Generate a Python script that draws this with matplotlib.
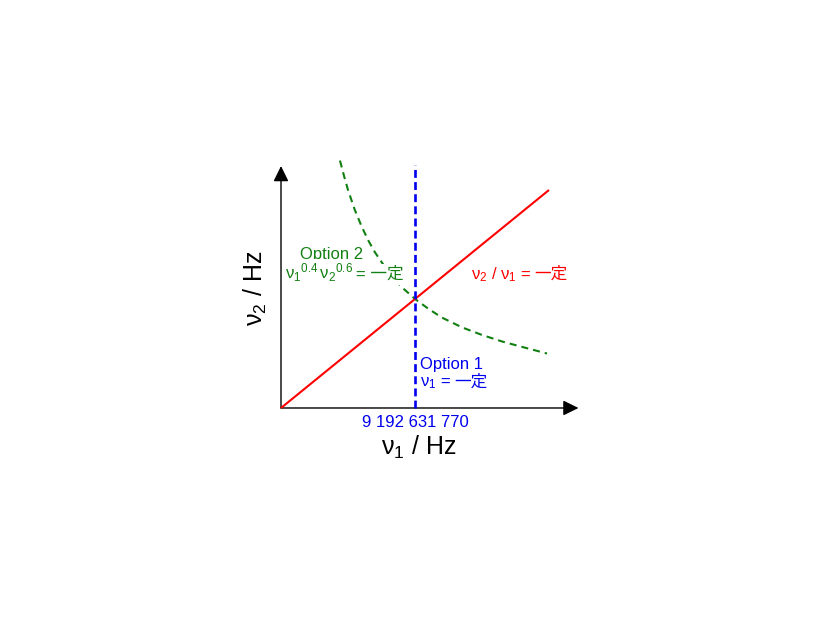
import matplotlib
matplotlib.use('Agg')
import matplotlib.pyplot as plt

plt.rcParams['font.family'] = ['Liberation Sans', 'Noto Sans CJK JP', 'DejaVu Sans']

# ---- data (normalised: nu1 / 9 192 631 770 Hz, nu2 likewise) ----
ratio_x = [0.0, 2.0]            # red: nu2 / nu1 = const
ratio_y = [0.0, 2.0]
option1_x = [1.0, 1.0]          # blue: nu1 = const
option1_y = [0.0, 2.23]
option2_x = [0.44, 0.47, 0.50, 0.55, 0.60, 0.65, 0.70, 0.80, 0.90, 1.00,
             1.10, 1.20, 1.35, 1.50, 1.65, 1.80, 1.985]
option2_y = [2.27, 2.13, 2.00, 1.82, 1.67, 1.54, 1.43, 1.25, 1.11, 1.00,
             0.91, 0.83, 0.74, 0.67, 0.61, 0.56, 0.50]
axis_end = 2.22
tick_value = 1.0
tick_label = '9 192 631 770'

RED = '#ff0000'
BLUE = '#0000ee'
GREEN = '#128012'

fig = plt.figure(figsize=(8.26, 6.2), dpi=100)
ax = fig.add_axes([0, 0, 1, 1])
ax.set_xlim(-2.097, 4.067)
ax.set_ylim(-1.945, 3.743)
ax.axis('off')

# axes with arrows
arrow = dict(arrowstyle='-|>,head_length=0.55,head_width=0.27', color='black',
             lw=1.0, shrinkA=0, shrinkB=0, mutation_scale=17)
ax.annotate('', xy=(axis_end, 0), xytext=(0, 0), arrowprops=arrow)
ax.annotate('', xy=(0, axis_end), xytext=(0, 0), arrowprops=arrow)

# curves
ax.plot(option2_x, option2_y, color=GREEN, lw=1.5, ls=(0, (3.4, 2.4)), zorder=2)
ax.plot(ratio_x, ratio_y, color=RED, lw=1.5, zorder=3, solid_capstyle='butt')
ax.plot(option1_x, option1_y, color=BLUE, lw=1.9, ls=(0, (3.0, 1.6)), zorder=4)


def chain(x, y, pieces, color, size, bbox=None, zorder=5):
    prev = None
    for text, gap in pieces:
        if prev is None:
            t = ax.text(x, y, text, color=color, fontsize=size, ha='left',
                        va='baseline', bbox=bbox, zorder=zorder)
        else:
            t = ax.annotate(text, xy=(1, y), xycoords=(prev, 'data'),
                            xytext=(gap, 0), textcoords='offset points',
                            color=color, fontsize=size, ha='left',
                            va='baseline', bbox=bbox, zorder=zorder)
        prev = t
    return prev


white = dict(boxstyle='square,pad=0.15', fc='white', ec='none')

# Option 2 label
ax.text(0.142, 1.367, 'Option 2', color=GREEN, fontsize=12, ha='left',
        va='baseline', zorder=5)
chain(0.030, 1.183,
      [(r'$\mathregular{ν_1{}^{0.4}\,ν_2{}^{0.6}}$', 0),
       ('= 一定', 2)], GREEN, 12, bbox=white)

# ratio label
chain(1.418, 1.183,
      [(r'$\mathregular{ν_2}$ / $\mathregular{ν_1}$ =', 0),
       ('一定', 2.5)], RED, 12)

# Option 1 label
ax.text(1.037, 0.358, 'Option 1', color=BLUE, fontsize=12, ha='left',
        va='baseline', zorder=5)
chain(1.037, 0.195,
      [(r'$\mathregular{ν_1}$ =', 0), ('一定', 2.5)], BLUE, 12)

# tick label
ax.text(tick_value, -0.174, tick_label, color=BLUE, fontsize=12,
        ha='center', va='baseline')

# axis labels
ax.text(1.03, -0.431, r'$\mathregular{ν_1}$ / Hz', fontsize=18,
        ha='center', va='baseline')
ax.text(-0.135, 1.10, r'$\mathregular{ν_2}$ / Hz', fontsize=18,
        ha='center', va='baseline', rotation=90, rotation_mode='anchor')

fig.savefig('out.png', dpi=100)
